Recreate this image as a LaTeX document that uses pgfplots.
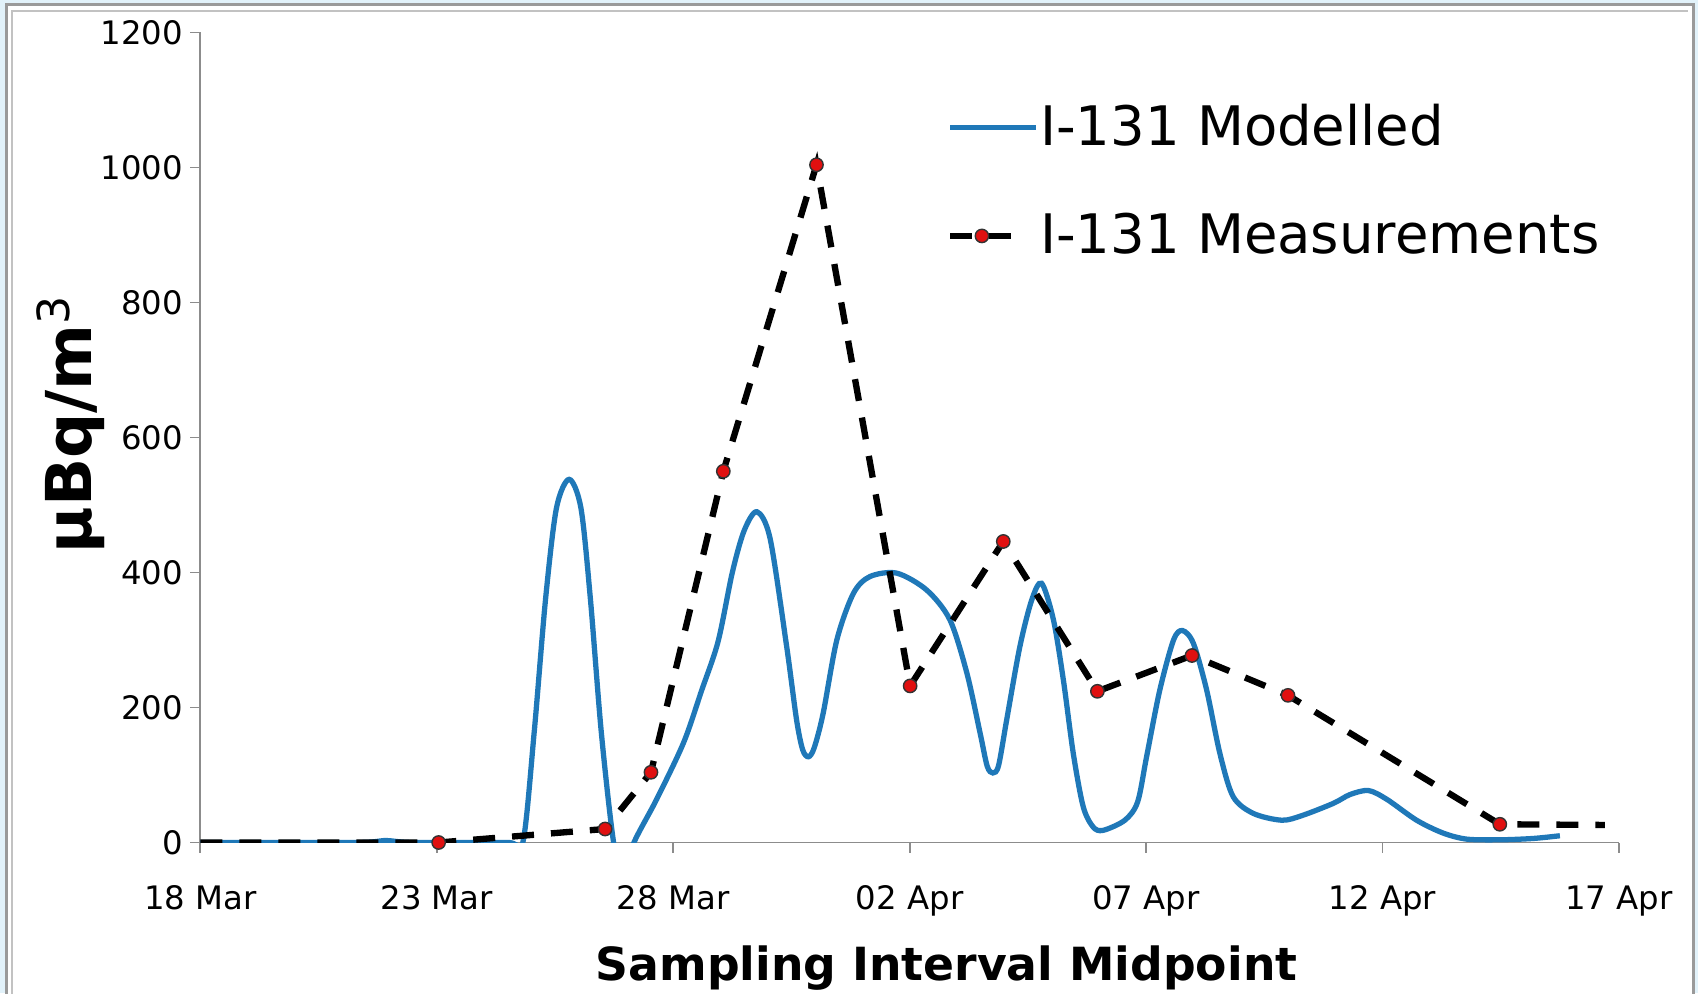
\documentclass[border=0pt]{standalone}
\usepackage{fontspec}
\setmainfont{DejaVu Sans}
\usepackage{graphicx}
\usepackage{pgfplots}
\pgfplotsset{compat=1.18}
\definecolor{modblue}{HTML}{1F78B8}
\definecolor{measred}{HTML}{E01010}
\definecolor{framebg}{HTML}{E2F2FA}
\definecolor{axgray}{HTML}{8C8C8C}
\definecolor{framegray}{HTML}{9A9A9A}
\pgfplotsset{
  modleg/.style={legend image code/.code={\draw[##1] (0mm,0mm) -- (8.6mm,0mm);}},
  measleg/.style={legend image code/.code={\draw[##1, mark indices={2}] plot coordinates {(0mm,0mm) (3.15mm,0mm) (6.3mm,0mm)};}},
}

\begin{document}
\begin{tikzpicture}[x=1mm,y=1mm]
\path[use as bounding box] (0,0) rectangle (169.8,99.3);
% window frame
\fill[framebg] (0,0) rectangle (169.8,99.3);
\fill[white] (0.6,-1) rectangle (169.3,98.8);
\draw[framegray, line width=0.3mm] (0.6,-1) -- (0.6,98.8) -- (169.3,98.8) -- (169.3,-1);
\draw[framegray!60, line width=0.2mm] (1.2,-1) -- (1.2,98.2) -- (168.8,98.2);

\begin{axis}[
  at={(20.03mm,15.05mm)}, anchor=south west,
  scale only axis, width=141.87mm, height=81mm,
  xmin=0, xmax=30, ymin=0, ymax=1200,
  axis x line*=bottom, axis y line*=left,
  axis line style={axgray, line width=0.5pt, -},
  xtick={0,5,...,30},
  xticklabels={18 Mar,23 Mar,28 Mar,02 Apr,07 Apr,12 Apr,17 Apr},
  ytick={0,200,...,1200},
  tick align=outside, major tick length=1mm,
  tick style={axgray, line width=0.5pt},
  tick label style={font=\fontsize{9.2}{11}\selectfont},
  yticklabel style={/pgf/number format/1000 sep={}, /pgf/number format/assume math mode=true, xshift=0.5mm},
  xticklabel style={yshift=-2.1mm},
  xlabel={Sampling Interval Midpoint},
  xlabel style={font=\bfseries\fontsize{13}{15}\selectfont, at={(axis description cs:0.526,-0.1698)}, anchor=base},
  ylabel={\textbf{µBq/m}\textsuperscript{3}},
  ylabel style={font=\fontsize{18}{20}\selectfont, at={(axis description cs:-0.0768,0.517)}, anchor=base},
  clip mode=individual,
  legend cell align=left,
  legend style={draw=none, fill=none, at={(axis description cs:0.526,0.816)}, anchor=west,
    inner sep=0pt, row sep=6mm, font=\fontsize{15.5}{18}\selectfont, nodes={inner sep=0.3pt}},
]
\addplot[modblue, line width=1.5pt, smooth, modleg] coordinates {
(0,0)(3.3,0)(3.9,3)(4.5,0)(6.5,0)(6.82,0)(7.06,163)(7.30,360)(7.53,495)(7.8,538)
(8.05,495)(8.25,360)(8.48,163)(8.74,0)(8.95,-50)(9.17,0)(9.65,64)(10.22,148)
(10.6,225)(10.95,298)(11.25,400)(11.5,462)(11.77,490)(12.05,450)
(12.40,290)(12.61,181)(12.74,137)(12.86,127)(12.98,140)(13.17,191)(13.46,300)(13.81,369)
(14.16,394)(14.73,399)(15.36,374)(15.85,330)(16.21,251)(16.49,162)(16.64,113)(16.76,103)
(16.88,114)(17.05,181)(17.33,290)(17.58,359)(17.79,384)(18.04,330)
(18.25,241)(18.46,132)(18.67,53)(18.88,23)(19.09,18)(19.55,33)(19.82,60)(20.01,127)
(20.29,226)(20.58,300)(20.77,314)(21.0,295)(21.28,226)(21.56,132)
(21.84,68)(22.27,43)(22.87,33)(23.3,40)(23.96,58)(24.31,71)(24.70,77)(25.09,64)(25.72,33)
(26.28,14)(26.78,5)(27.48,4)(28.19,6)(28.75,10)
};
\addlegendentry{I-131 Modelled}
\addplot[black, line width=1.8pt, dash pattern=on 2.2mm off 1.7mm,
  mark=*, mark size=1.9pt, mark indices={2,3,4,5,6,7,8,9,10,11,12},
  mark options={solid, fill=measred, draw=black!80, line width=0.4pt}, measleg] coordinates {
(0,0)(5.04,0)(8.56,20)(9.53,104)(11.06,550)(13.03,1004)(15.01,232)(16.98,446)
(18.97,224)(20.97,277)(23.0,218)(27.48,27)(29.7,26)
};
\addlegendentry{I-131 Measurements}
\end{axis}
\end{tikzpicture}
\end{document}
